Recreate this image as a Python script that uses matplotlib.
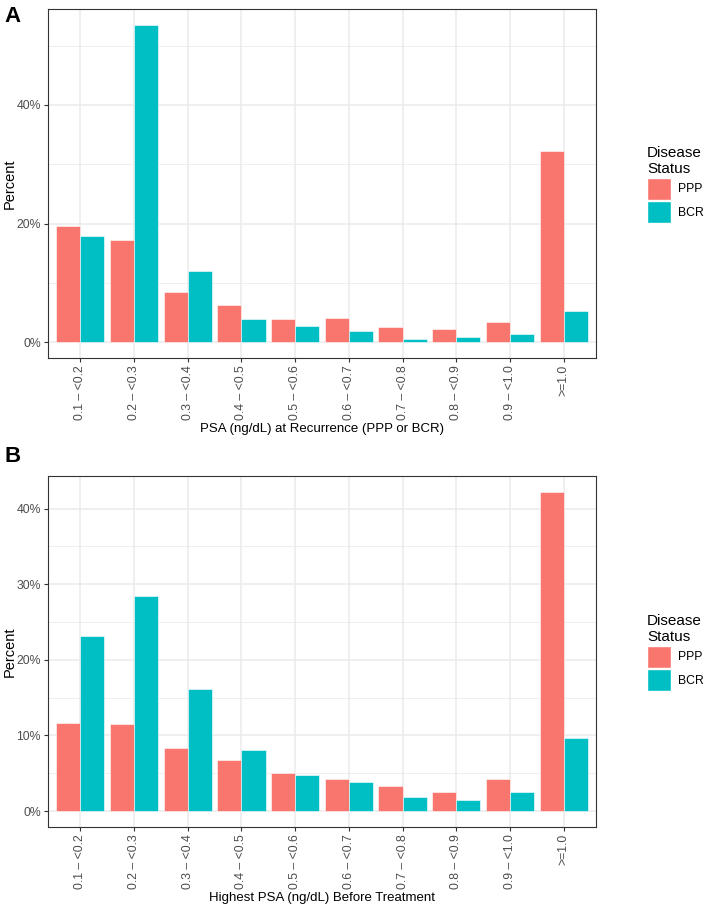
import numpy as np
import matplotlib.pyplot as plt
from matplotlib.ticker import FuncFormatter, MultipleLocator
from matplotlib.patches import Patch

plt.rcParams['font.family'] = ['Liberation Sans', 'DejaVu Sans']

# categories and percentages
categories = ["0.1 – <0.2", "0.2 – <0.3", "0.3 – <0.4", "0.4 – <0.5", "0.5 – <0.6",
              "0.6 – <0.7", "0.7 – <0.8", "0.8 – <0.9", "0.9 – <1.0", ">=1.0"]
groups = ["PPP", "BCR"]

ppp_recur = [19.5, 17.2, 8.5, 6.2, 3.9, 4.0, 2.6, 2.2, 3.4, 32.3]
bcr_recur = [17.9, 53.5, 12.0, 3.9, 2.7, 1.9, 0.6, 0.8, 1.3, 5.2]

ppp_highest = [11.7, 11.5, 8.4, 6.8, 5.0, 4.2, 3.3, 2.5, 4.3, 42.2]
bcr_highest = [23.1, 28.4, 16.2, 8.1, 4.8, 3.8, 1.8, 1.5, 2.5, 9.7]

colors = {"PPP": "#F8766D", "BCR": "#00BFC4"}
grid_col = "#EBEBEB"
tick_col = "#4D4D4D"

W, H = 709, 910
fig = plt.figure(figsize=(W / 100, H / 100), dpi=100)


def panel(top_px, bottom_px, ppp, bcr, xlabel, letter, letter_y, major, minor):
    left_px, right_px = 48, 596
    ax = fig.add_axes([left_px / W, 1 - bottom_px / H,
                       (right_px - left_px) / W, (bottom_px - top_px) / H])
    x = np.arange(len(categories))
    w = 0.45
    ax.bar(x - w / 2, ppp, width=w, color=colors["PPP"], edgecolor="white", linewidth=0.4, zorder=3)
    ax.bar(x + w / 2, bcr, width=w, color=colors["BCR"], edgecolor="white", linewidth=0.4, zorder=3)

    ymax = max(max(ppp), max(bcr))
    pad = ymax * 0.05
    ax.set_ylim(-pad, ymax + pad)
    ax.set_xlim(-0.6, len(categories) - 0.4)

    ax.yaxis.set_major_locator(MultipleLocator(major))
    ax.yaxis.set_minor_locator(MultipleLocator(minor))
    ax.yaxis.set_major_formatter(FuncFormatter(lambda v, p: "%d%%" % round(v)))
    ax.set_xticks(x)
    ax.set_xticklabels(categories, rotation=90)

    ax.grid(which="major", color=grid_col, linewidth=1.1, zorder=0)
    ax.grid(which="minor", axis="y", color=grid_col, linewidth=0.55, zorder=0)
    ax.set_axisbelow(True)
    ax.tick_params(which="major", length=3, width=0.8, color="#333333",
                   labelsize=8.8, labelcolor=tick_col, pad=2)
    ax.tick_params(which="minor", length=0)
    for s in ax.spines.values():
        s.set_color("#333333")
        s.set_linewidth(0.8)

    ax.set_ylabel("Percent", fontsize=10.5)
    ax.set_xlabel(xlabel, fontsize=9.5, labelpad=2)
    ax.yaxis.set_label_coords(-31 / (right_px - left_px), 0.5)

    fig.text(4 / W, 1 - letter_y / H, letter, fontsize=16, fontweight="bold", va="center")

    handles = [Patch(facecolor=colors[g], edgecolor="white", linewidth=1.0, label=g) for g in groups]
    mid = (top_px + bottom_px) / 2
    ax.legend(handles=handles, title="Disease\nStatus", loc="center left",
              bbox_to_anchor=(647 / W, 1 - (mid + 1) / H), bbox_transform=fig.transFigure,
              frameon=False, fontsize=8.8, title_fontsize=11, handlelength=1.95,
              handleheight=2.4, handletextpad=0.6, labelspacing=0.1, alignment="left",
              borderpad=0, borderaxespad=0)
    return ax


panel(9, 358, ppp_recur, bcr_recur, "PSA (ng/dL) at Recurrence (PPP or BCR)", "A", 17, 20, 10)
panel(476, 827, ppp_highest, bcr_highest, "Highest PSA (ng/dL) Before Treatment", "B", 457, 10, 5)

fig.savefig("out.png", dpi=100)
